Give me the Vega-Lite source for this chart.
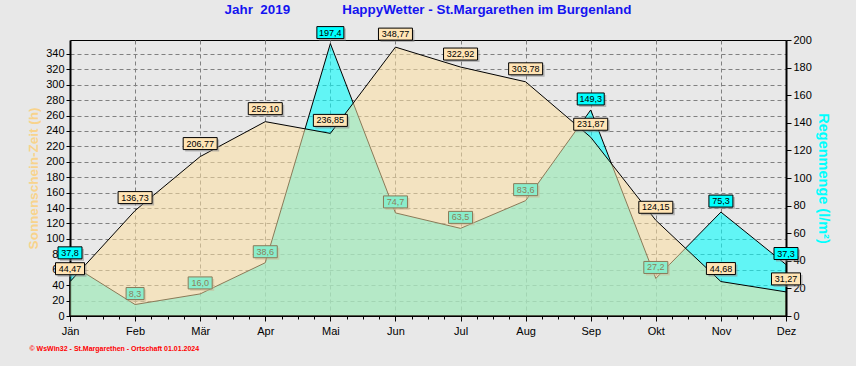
{
  "$schema": "https://vega.github.io/schema/vega-lite/v6.json",
  "width": 716,
  "height": 276,
  "autosize": "none",
  "padding": {"left": 70, "top": 40, "right": 70, "bottom": 50},
  "background": "#E8E8E8",
  "config": {
    "locale": {"number": {"decimal": ",", "thousands": ".", "grouping": [3], "currency": ["", " €"]}},
    "font": "Liberation Sans",
    "view": {"stroke": "black", "strokeWidth": 1},
    "axis": {
      "labelFont": "Liberation Sans",
      "labelFontSize": 11,
      "labelColor": "black",
      "labelOverlap": false,
      "labelFlush": false,
      "tickColor": "black",
      "domainColor": "black",
      "gridColor": "#808080",
      "gridDash": [4, 3],
      "gridWidth": 1,
      "titleFont": "Liberation Sans"
    }
  },
  "title": {
    "text": "Jahr\u00a0\u00a02019\u00a0\u00a0\u00a0\u00a0\u00a0\u00a0\u00a0\u00a0\u00a0\u00a0\u00a0\u00a0\u00a0\u00a0HappyWetter - St.Margarethen im Burgenland",
    "font": "Liberation Sans",
    "fontSize": 13.4,
    "fontWeight": "bold",
    "color": "#1414F0",
    "anchor": "middle",
    "offset": 10
  },
  "data": {
    "values": [
      {"m": 0, "month": "Jän", "sun": 44.47, "rain": 37.8},
      {"m": 1, "month": "Feb", "sun": 136.73, "rain": 8.3},
      {"m": 2, "month": "Mär", "sun": 206.77, "rain": 16.0},
      {"m": 3, "month": "Apr", "sun": 252.10, "rain": 38.6},
      {"m": 4, "month": "Mai", "sun": 236.85, "rain": 197.4},
      {"m": 5, "month": "Jun", "sun": 348.77, "rain": 74.7},
      {"m": 6, "month": "Jul", "sun": 322.92, "rain": 63.5},
      {"m": 7, "month": "Aug", "sun": 303.78, "rain": 83.6},
      {"m": 8, "month": "Sep", "sun": 231.87, "rain": 149.3},
      {"m": 9, "month": "Okt", "sun": 124.15, "rain": 27.2},
      {"m": 10, "month": "Nov", "sun": 44.68, "rain": 75.3},
      {"m": 11, "month": "Dez", "sun": 31.27, "rain": 37.3}
    ]
  },
  "resolve": {"scale": {"y": "independent"}, "axis": {"x": "independent", "y": "independent"}},
  "layer": [
    {
      "layer": [
        {
          "mark": {"type": "area", "fill": "#00FFFF", "fillOpacity": 0.58, "stroke": "black", "strokeWidth": 1},
          "encoding": {
            "x": {
              "field": "m", "type": "quantitative",
              "scale": {"domain": [0, 11], "nice": false, "zero": false},
              "axis": {
                "orient": "bottom",
                "values": [0, 1, 2, 3, 4, 5, 6, 7, 8, 9, 10, 11],
                "tickCount": 12,
                "labelExpr": "['Jän','Feb','Mär','Apr','Mai','Jun','Jul','Aug','Sep','Okt','Nov','Dez'][datum.value]",
                "tickSize": 5,
                "labelPadding": 4,
                "grid": true,
                "domainWidth": 1,
                "title": "© WsWin32 - St.Margarethen - Ortschaft  01.01.2024",
                "titleColor": "#FF0000",
                "titleFontSize": 7,
                "titleFontWeight": "bold",
                "titleAnchor": "start",
                "titleAlign": "left",
                "titleX": -41,
                "titleY": 34,
                "titleBaseline": "alphabetic"
              }
            },
            "y": {
              "field": "rain", "type": "quantitative",
              "scale": {"domain": [0, 200], "nice": false},
              "axis": {
                "orient": "right",
                "values": [0, 20, 40, 60, 80, 100, 120, 140, 160, 180, 200],
                "tickCount": 11,
                "grid": false,
                "tickSize": 5,
                "labelPadding": 2,
                "domainWidth": 2,
                "title": "Regenmenge  (l/m²)",
                "titleColor": "#00FFFF",
                "titleFontSize": 14.5,
                "titleFontWeight": "bold",
                "titlePadding": 4
              }
            }
          }
        },
        {
          "transform": [{"filter": "datum.rain < 10"}],
          "mark": {"type": "rect", "fill": "#8C8C8C", "opacity": 0.55, "xOffset": -7, "x2Offset": 11, "yOffset": -15, "y2Offset": -3},
          "encoding": {"x": {"field": "m", "type": "quantitative"}, "x2": {"field": "m"}, "y": {"field": "rain", "type": "quantitative"}, "y2": {"field": "rain"}}
        },
        {
          "transform": [{"filter": "datum.rain >= 10 && datum.rain < 100"}],
          "mark": {"type": "rect", "fill": "#8C8C8C", "opacity": 0.55, "xOffset": -10, "x2Offset": 14, "yOffset": -15, "y2Offset": -3},
          "encoding": {"x": {"field": "m", "type": "quantitative"}, "x2": {"field": "m"}, "y": {"field": "rain", "type": "quantitative"}, "y2": {"field": "rain"}}
        },
        {
          "transform": [{"filter": "datum.rain >= 100"}],
          "mark": {"type": "rect", "fill": "#8C8C8C", "opacity": 0.55, "xOffset": -11.5, "x2Offset": 15.5, "yOffset": -15, "y2Offset": -3},
          "encoding": {"x": {"field": "m", "type": "quantitative"}, "x2": {"field": "m"}, "y": {"field": "rain", "type": "quantitative"}, "y2": {"field": "rain"}}
        },
        {
          "transform": [{"filter": "datum.rain < 10"}],
          "mark": {"type": "rect", "fill": "#00FFFF", "stroke": "black", "strokeWidth": 1, "xOffset": -9, "x2Offset": 9, "yOffset": -17, "y2Offset": -5},
          "encoding": {"x": {"field": "m", "type": "quantitative"}, "x2": {"field": "m"}, "y": {"field": "rain", "type": "quantitative"}, "y2": {"field": "rain"}}
        },
        {
          "transform": [{"filter": "datum.rain >= 10 && datum.rain < 100"}],
          "mark": {"type": "rect", "fill": "#00FFFF", "stroke": "black", "strokeWidth": 1, "xOffset": -12, "x2Offset": 12, "yOffset": -17, "y2Offset": -5},
          "encoding": {"x": {"field": "m", "type": "quantitative"}, "x2": {"field": "m"}, "y": {"field": "rain", "type": "quantitative"}, "y2": {"field": "rain"}}
        },
        {
          "transform": [{"filter": "datum.rain >= 100"}],
          "mark": {"type": "rect", "fill": "#00FFFF", "stroke": "black", "strokeWidth": 1, "xOffset": -13.5, "x2Offset": 13.5, "yOffset": -17, "y2Offset": -5},
          "encoding": {"x": {"field": "m", "type": "quantitative"}, "x2": {"field": "m"}, "y": {"field": "rain", "type": "quantitative"}, "y2": {"field": "rain"}}
        },
        {
          "mark": {"type": "text", "fontSize": 9, "font": "Liberation Sans", "dy": -11, "baseline": "middle", "align": "center", "color": "black"},
          "encoding": {
            "x": {"field": "m", "type": "quantitative"},
            "y": {"field": "rain", "type": "quantitative"},
            "text": {"field": "rain", "type": "quantitative", "format": ".1f"}
          }
        }
      ]
    },
    {
      "layer": [
        {
          "mark": {"type": "area", "fill": "#FCDFA1", "fillOpacity": 0.55, "stroke": "black", "strokeWidth": 1},
          "encoding": {
            "x": {
              "field": "m", "type": "quantitative",
              "scale": {"domain": [0, 11], "nice": false, "zero": false},
              "axis": {
                "orient": "bottom",
                "values": [0.25, 0.5, 0.75, 1.25, 1.5, 1.75, 2.25, 2.5, 2.75, 3.25, 3.5, 3.75, 4.25, 4.5, 4.75, 5.25, 5.5, 5.75, 6.25, 6.5, 6.75, 7.25, 7.5, 7.75, 8.25, 8.5, 8.75, 9.25, 9.5, 9.75, 10.25, 10.5, 10.75],
                "tickCount": 40,
                "labels": false,
                "grid": false,
                "domain": false,
                "tickSize": 3,
                "title": null
              }
            },
            "y": {
              "field": "sun", "type": "quantitative",
              "scale": {"domain": [0, 358], "nice": false},
              "axis": {
                "orient": "left",
                "values": [0, 20, 40, 60, 80, 100, 120, 140, 160, 180, 200, 220, 240, 260, 280, 300, 320, 340],
                "tickCount": 18,
                "grid": true,
                "tickSize": 4,
                "labelPadding": 2,
                "domainWidth": 2,
                "title": "Sonnenschein-Zeit  (h)",
                "titleColor": "#F8D38C",
                "titleFontSize": 13.5,
                "titleFontWeight": "bold",
                "titlePadding": 5
              }
            }
          }
        },
        {
          "transform": [{"filter": "datum.sun < 100"}],
          "mark": {"type": "rect", "fill": "#8C8C8C", "opacity": 0.55, "xOffset": -12.5, "x2Offset": 16.5, "yOffset": -17, "y2Offset": -5},
          "encoding": {"x": {"field": "m", "type": "quantitative"}, "x2": {"field": "m"}, "y": {"field": "sun", "type": "quantitative"}, "y2": {"field": "sun"}}
        },
        {
          "transform": [{"filter": "datum.sun >= 100"}],
          "mark": {"type": "rect", "fill": "#8C8C8C", "opacity": 0.55, "xOffset": -15, "x2Offset": 19, "yOffset": -17, "y2Offset": -5},
          "encoding": {"x": {"field": "m", "type": "quantitative"}, "x2": {"field": "m"}, "y": {"field": "sun", "type": "quantitative"}, "y2": {"field": "sun"}}
        },
        {
          "transform": [{"filter": "datum.sun < 100"}],
          "mark": {"type": "rect", "fill": "#FFE4B5", "stroke": "black", "strokeWidth": 1, "xOffset": -14.5, "x2Offset": 14.5, "yOffset": -19, "y2Offset": -7},
          "encoding": {"x": {"field": "m", "type": "quantitative"}, "x2": {"field": "m"}, "y": {"field": "sun", "type": "quantitative"}, "y2": {"field": "sun"}}
        },
        {
          "transform": [{"filter": "datum.sun >= 100"}],
          "mark": {"type": "rect", "fill": "#FFE4B5", "stroke": "black", "strokeWidth": 1, "xOffset": -17, "x2Offset": 17, "yOffset": -19, "y2Offset": -7},
          "encoding": {"x": {"field": "m", "type": "quantitative"}, "x2": {"field": "m"}, "y": {"field": "sun", "type": "quantitative"}, "y2": {"field": "sun"}}
        },
        {
          "mark": {"type": "text", "fontSize": 9, "font": "Liberation Sans", "dy": -13, "baseline": "middle", "align": "center", "color": "black"},
          "encoding": {
            "x": {"field": "m", "type": "quantitative"},
            "y": {"field": "sun", "type": "quantitative"},
            "text": {"field": "sun", "type": "quantitative", "format": ".2f"}
          }
        }
      ]
    }
  ]
}
